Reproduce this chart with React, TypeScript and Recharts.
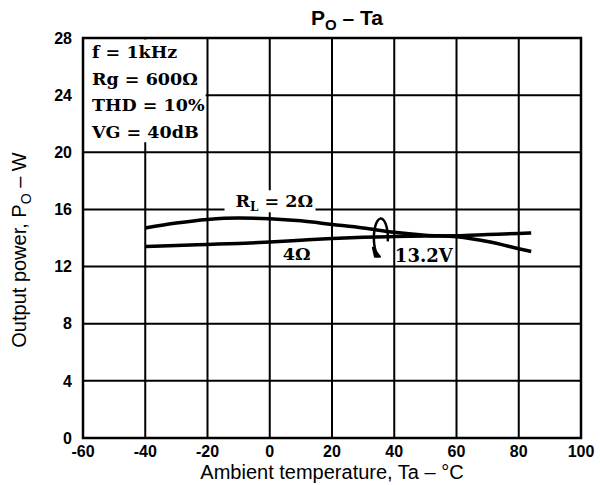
import React from 'react';
import { LineChart, Line, XAxis, YAxis, CartesianGrid, ReferenceArea, ReferenceDot, Label } from 'recharts';

const temps = [-40, -30, -20, -10, 0, 10, 20, 30, 40, 50, 60, 70, 80, 84];
const po2ohm = [14.7, 15.05, 15.3, 15.4, 15.35, 15.2, 14.95, 14.7, 14.4, 14.2, 14.08, 13.75, 13.25, 13.05];
const po4ohm = [13.4, 13.48, 13.55, 13.62, 13.72, 13.85, 13.97, 14.05, 14.1, 14.14, 14.16, 14.24, 14.32, 14.35];
const xTicks = [-60, -40, -20, 0, 20, 40, 60, 80, 100];
const yTicks = [0, 4, 8, 12, 16, 20, 24, 28];
const conditions = ['f = 1kHz', 'Rg = 600Ω', 'THD = 10%', 'VG = 40dB'];

const data = temps.map((t, i) => ({ t, r2: po2ohm[i], r4: po4ohm[i] }));

const serif = "'DejaVu Serif', 'Liberation Serif', serif";
const sans = "'Liberation Sans', Arial, sans-serif";

const CondBox = (p: any) => (
  <g>
    {conditions.map((c, i) => (
      <text key={c} x={p.cx + 9} y={p.cy + 20 + i * 26.5} fontFamily={serif} fontWeight="bold" fontSize={17.5} fill="#000">
        {c}
      </text>
    ))}
  </g>
);

const RLLabel = (p: any) => (
  <g>
    <rect x={p.cx - 11} y={p.cy - 17} width={91} height={22} fill="#fff" />
    <text x={p.cx} y={p.cy} fontFamily={serif} fontWeight="bold" fontSize={17.5} fill="#000">
      R<tspan fontSize={12} dy={4}>L</tspan><tspan dy={-4}> = 2Ω</tspan>
    </text>
  </g>
);

const FourLabel = (p: any) => (
  <text x={p.cx} y={p.cy} fontFamily={serif} fontWeight="bold" fontSize={17.5} fill="#000">4Ω</text>
);

const VLabel = (p: any) => (
  <text x={p.cx} y={p.cy} fontFamily={serif} fontWeight="bold" fontSize={18} fill="#000">13.2V</text>
);

const Loop = (p: any) => {
  const cx = p.cx, cy = p.cy, rx = 7, ry = 19.5;
  const a1 = 10 * Math.PI / 180;
  const a2 = 115 * Math.PI / 180;
  const sx = cx + rx * Math.cos(a1), sy = cy + ry * Math.sin(a1);
  const ex = cx + rx * Math.cos(a2), ey = cy + ry * Math.sin(a2);
  return (
    <g>
      <path d={`M ${sx} ${sy} A ${rx} ${ry} 0 1 0 ${ex} ${ey}`} fill="none" stroke="#000" strokeWidth={2.5} />
      <path d={`M ${ex - 5} ${ey - 8} L ${ex + 2} ${ey + 1} L ${ex - 3} ${ey + 1} Z`} fill="#000" stroke="#000" strokeWidth={2} strokeLinejoin="round" />
    </g>
  );
};

const XLabel = (p: any) => {
  const vb = p.viewBox;
  return (
    <text x={vb.x + vb.width / 2} y={vb.y + 41} textAnchor="middle" fontFamily={sans} fontSize={20} fill="#000">
      Ambient temperature, Ta – °C
    </text>
  );
};

const YLabel = () => {
  const x = 26, y = 250;
  return (
    <text x={x} y={y} textAnchor="middle" transform={`rotate(-90, ${x}, ${y})`} fontFamily={sans} fontSize={20} fill="#000">
      Output power, P<tspan fontSize={14} dy={5}>O</tspan><tspan dy={-5}> – W</tspan>
    </text>
  );
};

const tickStyle = { fontFamily: sans, fontWeight: 'bold', fontSize: 16, fill: '#000' };

export default function App() {
  return (
    <div style={{ position: 'absolute', left: 0, top: 0, width: 600, height: 485, background: '#fff' }}>
      <div style={{ position: 'absolute', left: 347, top: 6, transform: 'translateX(-50%)', fontFamily: sans, fontWeight: 'bold', fontSize: 21, whiteSpace: 'nowrap', lineHeight: '24px' }}>
        P<sub style={{ fontSize: 15, verticalAlign: '-5px' }}>O</sub> – Ta
      </div>
      <LineChart width={600} height={485} data={data} margin={{ top: 38, right: 19, bottom: 17, left: 23 }}>
        <CartesianGrid stroke="#000" strokeWidth={2} strokeOpacity={1} />
        <XAxis
          dataKey="t"
          type="number"
          domain={[-60, 100]}
          ticks={xTicks}
          interval={0}
          height={30}
          tickLine={false}
          axisLine={false}
          tick={tickStyle}
          tickMargin={2}
        >
          <Label content={XLabel} />
        </XAxis>
        <YAxis
          type="number"
          domain={[0, 28]}
          ticks={yTicks}
          interval={0}
          width={60}
          tickLine={false}
          axisLine={false}
          tick={tickStyle}
          tickMargin={5}
        >
          <Label content={YLabel} />
        </YAxis>
        <ReferenceArea x1={-59.8} x2={-20.6} y1={20.7} y2={27.9} fill="#fff" fillOpacity={1} stroke="none" />
        <Line type="monotone" dataKey="r2" stroke="#000" strokeWidth={3.5} dot={false} isAnimationActive={false} />
        <Line type="monotone" dataKey="r4" stroke="#000" strokeWidth={3.5} dot={false} isAnimationActive={false} />
        <ReferenceDot x={-60} y={28} r={0} shape={CondBox} />
        <ReferenceDot x={-11} y={16.15} r={0} shape={RLLabel} />
        <ReferenceDot x={4.2} y={12.45} r={0} shape={FourLabel} />
        <ReferenceDot x={40.2} y={12.3} r={0} shape={VLabel} />
        <ReferenceDot x={35.7} y={14.0} r={0} shape={Loop} />
        <ReferenceArea x1={-60} x2={100} y1={0} y2={28} fill="none" stroke="#000" strokeWidth={2.5} />
      </LineChart>
    </div>
  );
}
